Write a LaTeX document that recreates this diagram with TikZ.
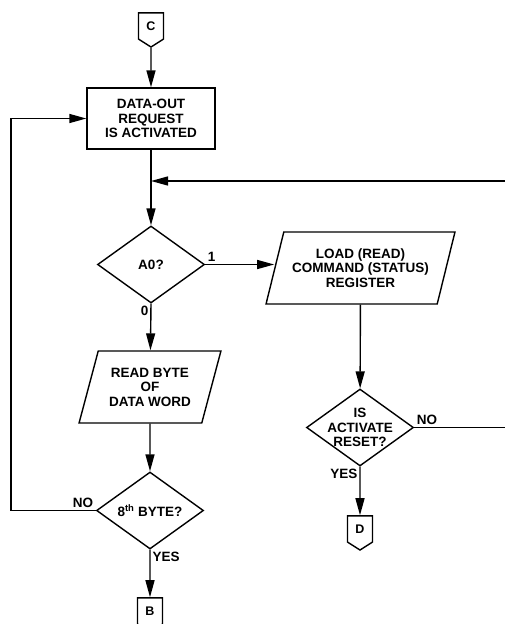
\documentclass[tikz,border=0pt]{standalone}
\usepackage{fontspec}
\setmainfont{Liberation Sans}
\usetikzlibrary{shapes,arrows.meta,positioning,calc}

\tikzset{
  txt/.style={font=\bfseries\fontsize{13.5}{14.5}\selectfont, align=center},
  lbl/.style={font=\bfseries\fontsize{13.5}{14}\selectfont, inner sep=2pt},
  line/.style={line width=1.4pt},
  flow/.style={line width=1.4pt, -{Triangle[length=17pt,width=9pt]}},
  process/.style={rectangle, draw, line width=1.4pt, minimum width=128pt, minimum height=61pt, txt},
  io/.style={trapezium, trapezium left angle=70, trapezium right angle=110, trapezium stretches=true,
    draw, line width=1.4pt, minimum height=72pt, txt},
  decision/.style={diamond, draw, line width=1.4pt, minimum width=107pt, minimum height=77pt, inner sep=0pt},
  conn/.style={signal, signal to=south, signal pointer angle=115, draw, line width=1.4pt,
    minimum width=25pt, minimum height=29pt, inner sep=0pt, font=\bfseries\fontsize{12.5}{12.5}\selectfont},
}

\begin{document}
\begin{tikzpicture}[x=1pt,y=-1pt]
\useasboundingbox (0,0) rectangle (504,624);

% left column
\node[conn] (c) at (151,26) {C};
\node[process] (req) at (151,118.5) {DATA-OUT\\REQUEST\\IS ACTIVATED};
\coordinate (junc) at (151,181);
\node[decision, label={[txt]center:A0?}] (a0) at (151,264.5) {};
\node[io, minimum width=142pt] (read) at (150,387) {READ BYTE\\OF\\DATA WORD};
\node[decision, label={[txt]center:8\textsuperscript{th} BYTE?}] (byte) at (150,510.5) {};
\node[conn] (b) at (150,611) {B};

% right column
\node[io, minimum width=189pt] (load) at (360.5,268) {LOAD (READ)\\COMMAND (STATUS)\\REGISTER};
\node[decision, label={[txt]center:IS\\ACTIVATE\\RESET?}] (reset) at (360,427.5) {};
\node[conn] (d) at (360,529) {D};

% connectors
\draw[flow] (c) -- (req);
\draw[line] (req) -- (junc);
\draw[flow] (junc) -- (a0);
\draw[flow] (a0.east) node[lbl, above right] {1} -- (load.west |- a0.east);
\draw[flow] (a0.south) node[lbl, below left] {0} -- (read);
\draw[flow] (read) -- (byte);
\draw[flow] (byte.south) node[lbl, below right] {YES} -- (b);
\draw[flow] (byte.west) node[lbl, above left] {NO} -- (11,510.5) |- (req.west);
\draw[flow] (load) -- (reset);
\draw[flow] (reset.south) node[lbl, below left] {YES} -- (d);
\draw[flow] (reset.east) node[lbl, above right] {NO} -- (507,427.5) |- (junc);
\end{tikzpicture}
\end{document}
